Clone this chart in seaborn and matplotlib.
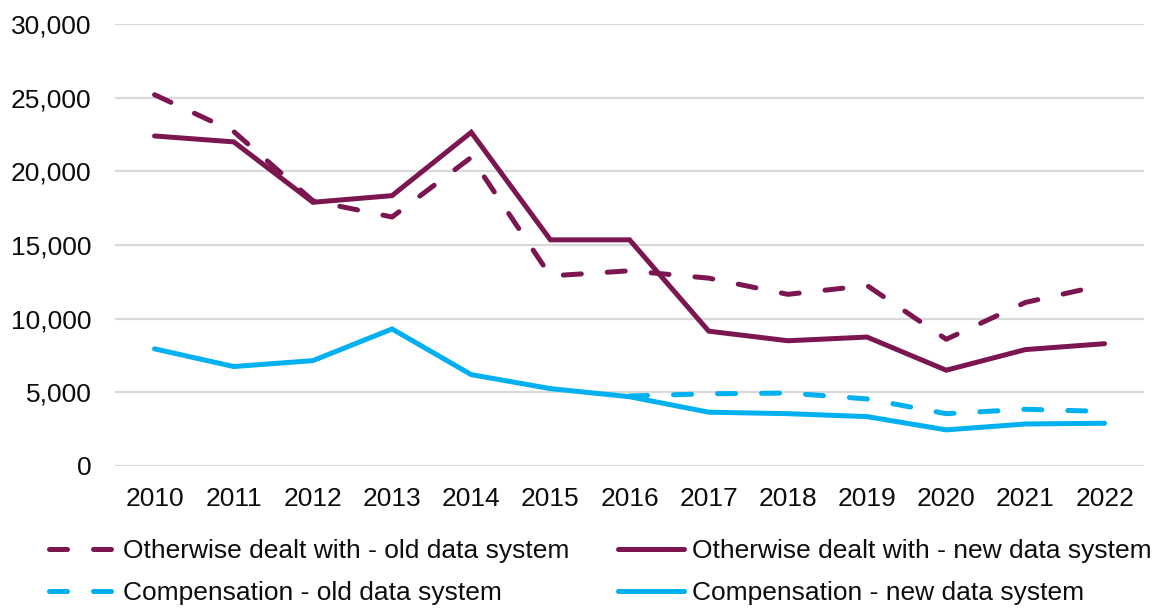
import matplotlib
matplotlib.use("Agg")
import matplotlib.pyplot as plt
import matplotlib.ticker as mticker
import numpy as np
import pandas as pd
import seaborn as sns

years = list(range(2010, 2023))

otherwise_old = [25200, 22700, 18000, 16900, 20950, 12900, 13250, 12750, 11650, 12250, 8600, 11100, 12300]
otherwise_new = [22400, 22000, 17900, 18350, 22650, 15350, 15350, 9150, 8500, 8750, 6500, 7900, 8300]
compensation_old = [np.nan, np.nan, np.nan, np.nan, np.nan, np.nan, 4750, 4900, 4950, 4550, 3550, 3850, 3700]
compensation_new = [7950, 6750, 7150, 9300, 6200, 5250, 4700, 3650, 3550, 3350, 2450, 2850, 2900]

series_names = [
    "Otherwise dealt with - old data system",
    "Otherwise dealt with - new data system",
    "Compensation - old data system",
    "Compensation - new data system",
]
series_values = [otherwise_old, otherwise_new, compensation_old, compensation_new]

MAROON = "#7B1650"
CYAN = "#00B0F0"
DASH = (3.6, 5.2)
palette = {series_names[0]: MAROON, series_names[1]: MAROON,
           series_names[2]: CYAN, series_names[3]: CYAN}
dash_map = {series_names[0]: DASH, series_names[1]: "",
            series_names[2]: DASH, series_names[3]: ""}

df = pd.concat(
    [pd.DataFrame({"year": years, "value": vals, "series": name})
     for name, vals in zip(series_names, series_values)],
    ignore_index=True,
).dropna()

sns.set_theme(style="white")
plt.rcParams["font.family"] = ["Liberation Sans", "DejaVu Sans"]
plt.rcParams["text.color"] = "#0D0D0D"

FS = 19
LW = 3.6

fig = plt.figure(figsize=(11.59, 6.08), dpi=100)
ax = fig.add_axes([0.0992, 0.2336, 0.888, 0.7269])

sns.lineplot(data=df, x="year", y="value", hue="series", style="series",
             hue_order=series_names, style_order=series_names,
             palette=palette, dashes=dash_map, linewidth=LW,
             legend=False, ax=ax, zorder=3)

for line in ax.lines:
    line.set_dash_capstyle("round")
    line.set_solid_capstyle("round")
    line.set_solid_joinstyle("miter")

ax.set_xlim(2009.5, 2022.5)
ax.set_ylim(0, 30000)
ax.set_xticks(years)
ax.set_xticklabels([str(y) for y in years])
ax.set_yticks(range(0, 30001, 5000))
ax.yaxis.set_major_formatter(mticker.FuncFormatter(lambda v, p: f"{int(v):,}"))
ax.grid(axis="y", color="#D9D9D9", linewidth=1.6, zorder=0)
ax.set_axisbelow(True)
for s in ax.spines.values():
    s.set_visible(False)
ax.tick_params(axis="both", length=0, labelsize=FS, colors="#0D0D0D")
ax.tick_params(axis="x", pad=15)
ax.tick_params(axis="y", pad=17)
ax.set_xlabel("")
ax.set_ylabel("")

# Legend: two columns, old-system series on the left
handles = {}
for name in series_names:
    ls = (0, dash_map[name]) if dash_map[name] else "-"
    h, = ax.plot([], [], color=palette[name], linewidth=LW, linestyle=ls,
                 dash_capstyle="round", solid_capstyle="round")
    handles[name] = h
order = [series_names[0], series_names[2], series_names[1], series_names[3]]
fig.legend([handles[n] for n in order], order, ncol=2, loc="upper left",
           bbox_to_anchor=(0.042, 0.1135), frameon=False, fontsize=FS,
           handlelength=2.5, handletextpad=0.3, columnspacing=1.85,
           labelspacing=0.68, borderpad=0, borderaxespad=0)

fig.savefig("out.png", dpi=100, facecolor="white")
